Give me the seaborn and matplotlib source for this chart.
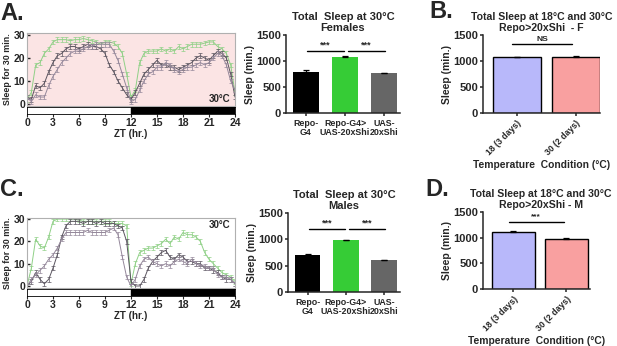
import numpy as np
import pandas as pd
import matplotlib
matplotlib.use("Agg")
import matplotlib.pyplot as plt
import seaborn as sns

# ZT bins, 30 min each
ZT = np.arange(0, 24.5, 0.5)

# panel A, females at 30C (sleep per 30 min bin)
A_SHI = [2, 5, 17, 18, 22, 24, 27, 28, 28, 28, 27.5, 28,
         28, 28.5, 28, 27.5, 27, 26, 27, 27, 26.5, 25, 22, 13,
         3, 6, 18, 22, 23, 23, 23, 24, 23, 24, 23, 25,
         24, 25, 26, 26, 26, 26.5, 27, 27, 25, 24, 22, 17,
         5]
A_GAL4 = [3, 2, 8, 7, 9, 14, 18, 21, 22, 24, 25, 25,
          24, 25, 26, 25, 25, 24, 22, 17, 14, 10, 7, 4,
          2, 5, 9, 13, 15, 17, 19, 17, 17, 16, 16, 15,
          16, 17, 18, 20, 21, 20, 19, 21, 23, 22, 20, 13,
          3]
A_UAS = [3, 1, 4, 3, 3, 8, 12, 15, 18, 20, 22, 23,
         23, 24, 25, 25, 26, 26, 26, 26, 23, 19, 13, 7,
         1, 2, 6, 10, 13, 14, 16, 16, 18, 17, 15, 14,
         15, 16, 16, 17, 18, 17, 18, 20, 22, 21, 17, 10,
         6]

# panel C, males at 30C
C_SHI = [0, 8, 21, 18, 17, 22, 29, 30, 30, 30, 30, 30,
         29.5, 29, 29, 29, 29, 29, 29, 29, 28, 28, 28, 27,
         1, 10, 15, 16, 17, 17, 18, 19, 21, 19, 22, 21,
         24, 23, 23, 22, 20, 15, 12, 10, 8, 6, 5, 4,
         2]
C_GAL4 = [0, 2, 6, 3, 1, 3, 8, 14, 22, 27, 29, 29,
          29, 28, 29, 29, 28, 29, 28, 28, 28, 27, 26, 20,
          2, 0, 0, 3, 8, 11, 13, 15, 16, 13, 12, 14,
          13, 11, 11, 10, 10, 8, 8, 7, 6, 4, 3, 3,
          1]
C_UAS = [0, 3, 5, 7, 9, 12, 14, 17, 21, 24, 24, 24,
         24, 24, 25, 24, 24, 24, 24, 25, 26, 23, 13, 4,
         0, 3, 9, 12, 13, 11, 10, 9, 10, 9, 11, 12,
         11, 10, 12, 10, 9, 9, 8, 8, 5, 4, 4, 3,
         1]
PROFILE_SEM = 1.0

# total sleep bars
GENOTYPES = ["Repo-\nG4", "Repo-G4>\nUAS-20xShi", "UAS-\n20xShi"]
FEMALE_TOTAL = [785, 1085, 760]
FEMALE_SEM = [40, 12, 15]
MALE_TOTAL = [710, 985, 600]
MALE_SEM = [18, 8, 15]

TEMPS = ["18 (3 days)", "30 (2 days)"]
TEMP_F = [1070, 1085]
TEMP_F_SEM = [12, 15]
TEMP_M = [1115, 978]
TEMP_M_SEM = [10, 10]

GREEN_LINE = "#8fd086"
DARK_LINE = "#5b5560"
PURPLE_LINE = "#94879a"

sns.set_theme(style="ticks")
plt.rcParams["font.family"] = ["Liberation Sans", "DejaVu Sans"]
plt.rcParams["font.weight"] = "bold"
plt.rcParams["axes.labelweight"] = "bold"
plt.rcParams["axes.titleweight"] = "bold"

W, H = 617, 346
fig = plt.figure(figsize=(W / 100, H / 100), dpi=100)


def box(x0, y0, x1, y1):
    return fig.add_axes([x0 / W, 1 - y1 / H, (x1 - x0) / W, (y1 - y0) / H])


def sleep_profile(top, bottom, series, bg, ylim, temp_pos):
    ax = box(27, top, 235, bottom)
    for vals, color in series:
        df = pd.DataFrame({"zt": ZT, "sleep": vals})
        sns.lineplot(data=df, x="zt", y="sleep", color=color, lw=0.7, ax=ax)
        ax.errorbar(ZT, vals, yerr=PROFILE_SEM, fmt="none", ecolor=color,
                    elinewidth=0.5, capsize=1.2, capthick=0.5)
    ax.set_facecolor(bg)
    ax.set_xlim(0, 24)
    ax.set_ylim(*ylim)
    ax.set_yticks([0, 10, 20, 30])
    ax.set_xticks([])
    ax.set_xlabel("")
    ax.set_ylabel("Sleep for 30 min.", fontsize=6.4, labelpad=1)
    ax.tick_params(axis="y", labelsize=7.5, length=2, width=1, pad=1.5,
                   direction="in")
    for s in ax.spines.values():
        s.set_color("#b0b0b0")
        s.set_linewidth(0.8)
    ax.text(temp_pos[0], temp_pos[1], "30°C", transform=ax.transAxes,
            ha="right", va="center", fontsize=7, fontweight="bold")

    # light/dark bar
    ld = box(27, bottom + 1, 235, bottom + 8)
    ld.set_xlim(0, 24)
    ld.set_ylim(0, 1)
    ld.axvspan(12, 24, color="black")
    ld.set_yticks([])
    ld.set_xticks(range(0, 25, 3))
    ld.tick_params(axis="x", labelsize=7.5, length=2, width=0.8, pad=1)
    for s in ld.spines.values():
        s.set_color("black")
        s.set_linewidth(0.6)
    ld.set_xlabel("ZT (hr.)", fontsize=7, labelpad=0.5)
    return ax


def bar_panel(ax, labels, vals, errs, colors, width, edge, title, xlim,
              tick_size, rot=0, title_size=8):
    df = pd.DataFrame({"group": labels, "sleep": vals})
    sns.barplot(data=df, x="group", y="sleep", hue="group", palette=colors,
                legend=False, width=width, saturation=1, edgecolor=edge,
                linewidth=1.0 if edge != "none" else 0, ax=ax)
    pos = np.arange(len(vals))
    ax.errorbar(pos, vals, yerr=[np.zeros(len(errs)), errs], fmt="none",
                ecolor="black", elinewidth=0.9, capsize=2.5, capthick=0.9)
    ax.set_xlim(*xlim)
    ax.set_ylim(0, 1500)
    ax.set_yticks([0, 500, 1000, 1500])
    ax.set_xlabel("")
    ax.set_ylabel("Sleep (min.)", fontsize=7.5, labelpad=1)
    ax.set_title(title, fontsize=title_size, fontweight="bold", pad=3,
                 linespacing=1.1)
    sns.despine(ax=ax)
    for s in ("left", "bottom"):
        ax.spines[s].set_linewidth(1.1)
    ax.tick_params(axis="y", labelsize=8, length=2.5, width=1.1, pad=1)
    ax.tick_params(axis="x", labelsize=tick_size, length=2.5, width=1.1, pad=1.5)
    if rot:
        ax.set_xticks(pos)
        ax.set_xticklabels(labels, rotation=rot, ha="right",
                           rotation_mode="anchor")
    for t in ax.get_xticklabels():
        t.set_linespacing(1.0)
        t.set_fontweight("bold")
    return ax


def sig(ax, x0, x1, y, text, size=6.5):
    ax.plot([x0, x1], [y, y], color="black", lw=1.0, clip_on=False)
    ax.text((x0 + x1) / 2, y + 25, text, ha="center", va="bottom",
            fontsize=size, fontweight="bold")


# A / C profiles
sleep_profile(33, 106, [(A_SHI, GREEN_LINE), (A_GAL4, DARK_LINE),
                        (A_UAS, PURPLE_LINE)], "#fbe4e4", (-0.9, 30.9),
              (0.98, 0.1))
sleep_profile(218, 288, [(C_SHI, GREEN_LINE), (C_GAL4, DARK_LINE),
                         (C_UAS, PURPLE_LINE)], "white", (-0.9, 30.5),
              (0.98, 0.9))

geno_colors = ["#000000", "#36cc36", "#666666"]

ax = box(286, 35, 400, 113)
bar_panel(ax, GENOTYPES, FEMALE_TOTAL, FEMALE_SEM, geno_colors, 0.67, "none",
          "Total  Sleep at 30°C\nFemales", (-0.51, 2.41), 6.4)
sig(ax, 0.03, 0.97, 1190, "***")
sig(ax, 1.08, 2.03, 1190, "***")

ax = box(288, 213, 400, 292)
bar_panel(ax, GENOTYPES, MALE_TOTAL, MALE_SEM, geno_colors, 0.67, "none",
          "Total  Sleep at 30°C\nMales", (-0.51, 2.41), 6.4)
sig(ax, 0.03, 0.97, 1190, "***")
sig(ax, 1.08, 2.03, 1190, "***")

temp_colors = ["#b8b8fa", "#f9a0a0"]

ax = box(483, 35, 600, 113)
bar_panel(ax, TEMPS, TEMP_F, TEMP_F_SEM, temp_colors, 0.81, "black",
          "Total Sleep at 18°C and 30°C\nRepo>20xShi  - F", (-0.58, 1.41),
          6.3, rot=45, title_size=7.6)
ax.set_xlabel("Temperature  Condition (°C)", fontsize=7.4, labelpad=2)
sig(ax, -0.08, 0.94, 1325, "NS", size=6)

ax = box(483, 212, 590, 289)
bar_panel(ax, TEMPS, TEMP_M, TEMP_M_SEM, temp_colors, 0.81, "black",
          "Total Sleep at 18°C and 30°C\nRepo>20xShi - M", (-0.57, 1.45),
          6.3, rot=45, title_size=7.6)
ax.title.set_position((0.54, 1.0))
ax.set_xlabel("Temperature  Condition (°C)", fontsize=7.4, labelpad=2)
sig(ax, -0.08, 0.95, 1305, "***", size=6)

# panel letters
for x, y, letter in [(0, 13, "A."), (429, 11, "B."), (0, 190, "C."),
                     (425, 190, "D.")]:
    fig.text(x / W, 1 - y / H, letter, fontsize=17, fontweight="bold",
             va="center", ha="left")

fig.savefig("out.png", dpi=100)
